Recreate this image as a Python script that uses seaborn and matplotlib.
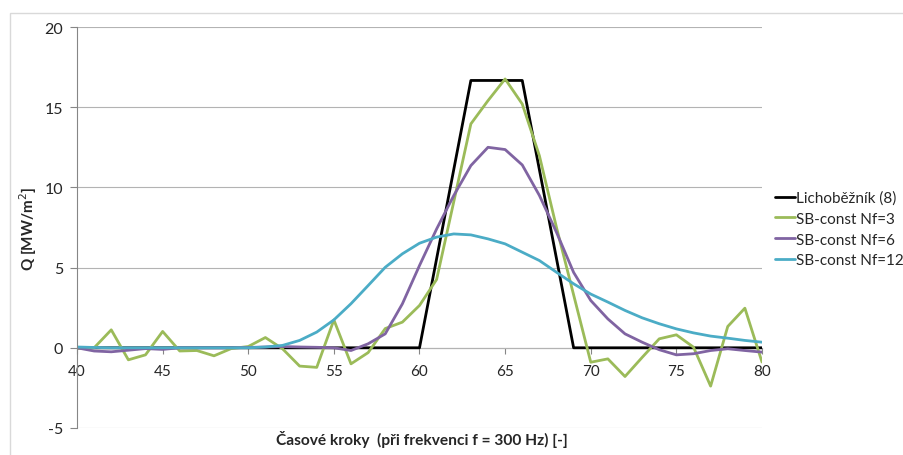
import numpy as np
import pandas as pd
import seaborn as sns
import matplotlib
matplotlib.use("Agg")
import matplotlib.pyplot as plt
from matplotlib.patches import Rectangle

steps = list(range(40, 81))
series_names = ["Lichoběžník (8)", "SB-const Nf=3", "SB-const Nf=6", "SB-const Nf=12"]
trapez = [0]*21 + [5.556, 11.111, 16.667, 16.667, 16.667, 16.667, 11.111, 5.556] + [0]*12
nf3 = [-0.05, 0.0, 1.12, -0.75, -0.44, 1.02, -0.2, -0.17, -0.5, -0.05, 0.08, 0.64, -0.06,
       -1.14, -1.22, 1.74, -1.0, -0.3, 1.2, 1.6, 2.64, 4.26, 9.1, 13.96, 15.41, 16.76, 15.2,
       11.98, 7.5, 3.3, -0.9, -0.69, -1.79, -0.6, 0.56, 0.81, 0.04, -2.39, 1.33, 2.47, -0.89]
nf6 = [0.0, -0.2, -0.25, -0.15, -0.05, -0.1, 0.0, 0.0, 0.0, 0.0, 0.02, 0.05, 0.08, 0.05,
       0.03, 0.0, -0.17, 0.25, 0.87, 2.74, 5.13, 7.41, 9.49, 11.36, 12.5, 12.36, 11.4, 9.5,
       7.2, 4.7, 2.95, 1.8, 0.87, 0.35, -0.12, -0.44, -0.37, -0.17, -0.06, -0.17, -0.27]
nf12 = [0.05, 0.02, 0.0, 0.0, 0.0, 0.0, 0.0, 0.0, 0.0, 0.0, 0.0, 0.05, 0.15, 0.46, 0.98,
        1.74, 2.75, 3.88, 5.02, 5.86, 6.52, 6.9, 7.1, 7.04, 6.79, 6.48, 5.96, 5.44, 4.71,
        3.99, 3.35, 2.85, 2.33, 1.87, 1.5, 1.18, 0.93, 0.73, 0.6, 0.46, 0.35]
x_ticks = [40, 45, 50, 55, 60, 65, 70, 75, 80]
y_ticks = [-5, 0, 5, 10, 15, 20]
colors = ["#000000", "#9BBB59", "#8064A2", "#4BACC6"]

df = pd.DataFrame({
    "krok": steps * 4,
    "Q": trapez + nf3 + nf6 + nf12,
    "serie": sum([[n] * len(steps) for n in series_names], []),
})

sns.set_theme(style="white")
plt.rcParams["font.family"] = ["Lato", "DejaVu Sans"]

fig = plt.figure(figsize=(9.04, 4.56), dpi=100)
ax = fig.add_axes([77/904, 1 - 429/456, (762-77)/904, (429-28)/456])

sns.lineplot(data=df, x="krok", y="Q", hue="serie", hue_order=series_names,
             palette=colors, estimator=None, sort=False, linewidth=2.0, ax=ax)

ax.set_xlim(40, 80)
ax.set_ylim(-5, 20)
ax.set_xticks(x_ticks)
ax.set_yticks(y_ticks)
ax.set_xticklabels([str(t) for t in x_ticks], fontsize=11.5)
ax.set_yticklabels([str(t) for t in y_ticks], fontsize=11.5)
ax.yaxis.grid(True, color="#B3B3B3", linewidth=0.8)
ax.set_axisbelow(True)
for s in ["top", "right"]:
    ax.spines[s].set_visible(False)
ax.spines["left"].set_color("#868686")
ax.spines["left"].set_linewidth(0.8)
ax.spines["bottom"].set_position(("data", 0))
ax.spines["bottom"].set_color("#868686")
ax.spines["bottom"].set_linewidth(0.8)
ax.spines["bottom"].set_zorder(0.5)
ax.tick_params(axis="y", direction="out", length=5, width=0.8, color="#868686", pad=5, left=True)
ax.tick_params(axis="x", direction="out", length=4, width=0.8, color="#868686", pad=8, bottom=True)

ax.set_xlabel("")
ax.set_ylabel("Q [MW/m$^2$]", fontsize=11, fontweight="bold", labelpad=4)
fig.text((77+762)/2/904 + 0.003, 1 - 440/456, "Časové kroky  (při frekvenci f = 300 Hz) [-]",
         ha="center", va="center", fontsize=11.2, fontweight="bold")

ax.legend(loc="center left", bbox_to_anchor=(775/904, 1 - 230/456),
          bbox_transform=fig.transFigure, frameon=False, fontsize=11,
          handlelength=1.3, handletextpad=0.1, labelspacing=0.45,
          borderpad=0, borderaxespad=0)

fig.patches.append(Rectangle((10/904, -0.5), 1.5, 1.5 - 14/456, transform=fig.transFigure,
                             fill=False, edgecolor="#D9D9D9", linewidth=1.0, zorder=0))

fig.savefig("out.png", dpi=100)
